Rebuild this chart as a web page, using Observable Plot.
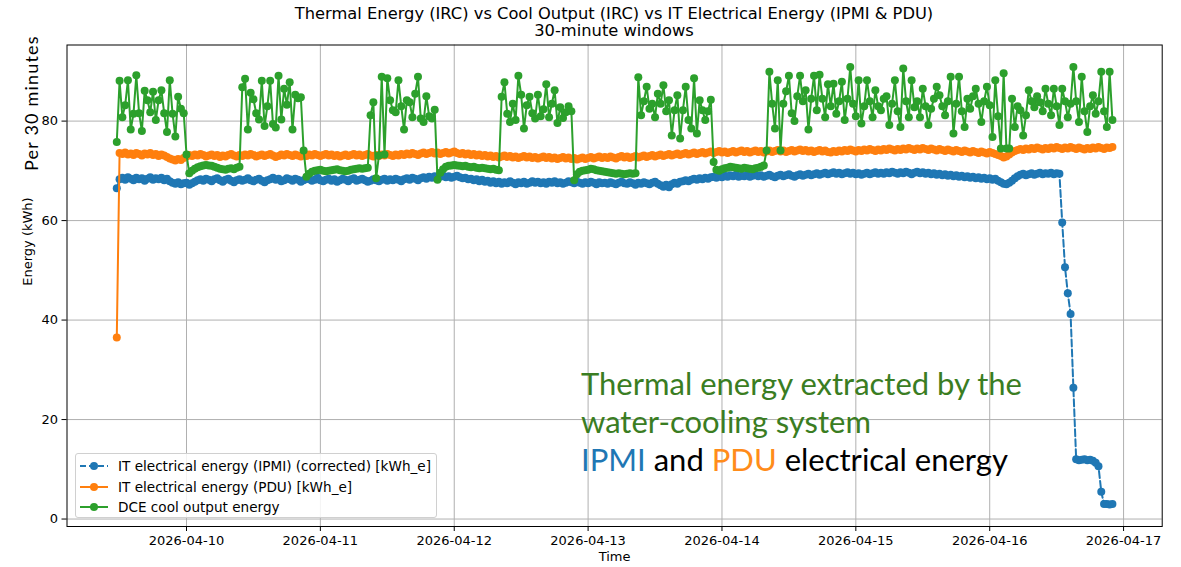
<!DOCTYPE html>
<html><head><meta charset="utf-8">
<script src="https://cdn.jsdelivr.net/npm/d3@7"></script>
<script src="https://cdn.jsdelivr.net/npm/@observablehq/plot@0.6"></script>
<style>
body{margin:0;background:#fff;}
#wrap{position:relative;width:1181px;height:567px;overflow:hidden;font-family:"DejaVu Sans",sans-serif;color:#000;}
#wrap > svg{position:absolute;left:0;top:0;}
.title{position:absolute;left:0;width:1228px;text-align:center;font-size:16.3px;white-space:nowrap;transform:scaleY(0.92);}
.legend{position:absolute;left:75px;top:453px;width:362px;height:65px;border:1px solid #d0d0d0;border-radius:3px;background:rgba(255,255,255,0.85);box-sizing:border-box;}
.legend .row{position:absolute;left:4px;height:20px;display:flex;align-items:center;font-size:13.6px;white-space:nowrap;}
.legend .row svg{margin-right:10px;flex:none;}
.note{position:absolute;font-family:Lato,"Open Sans",sans-serif;font-size:31px;white-space:nowrap;line-height:38px;}
.side{position:absolute;font-family:Lato,"Open Sans",sans-serif;font-size:18px;letter-spacing:1.2px;white-space:nowrap;transform-origin:0 0;transform:rotate(-90deg);}
</style></head><body><div id="wrap"></div>
<script>
const titleLines = ["Thermal Energy (IRC) vs Cool Output (IRC) vs IT Electrical Energy (IPMI & PDU)", "30-minute windows"];
const xLabel = "Time";
const yLabel = "Energy (kWh)";
const startTime = "2026-04-09T11:30:00Z";
const stepMinutes = 30;
const xTickLabels = ["2026-04-10","2026-04-11","2026-04-12","2026-04-13","2026-04-14","2026-04-15","2026-04-16","2026-04-17"];
const yTicks = [0, 20, 40, 60, 80];
const seriesNames = ["IT electrical energy (IPMI) (corrected) [kWh_e]", "IT electrical energy (PDU) [kWh_e]", "DCE cool output energy"];
const seriesColors = ["#1f77b4", "#ff7f0e", "#2ca02c"];

const ipmi = [
66.5,68.3,68.6,68.2,68.7,68.4,68.1,68.6,68.3,68.5,68.0,68.4,68.7,68.2,68.5,68.3,68.6,68.1,68.4,67.9,67.6,67.4,67.7,67.3,67.5,
67.6,67.2,67.5,67.8,68.1,68.3,68.0,68.4,68.2,67.9,68.3,68.5,68.1,67.8,68.2,68.4,68.0,67.7,68.1,68.3,68.0,68.2,68.5,68.1,67.9,
68.2,68.4,68.0,67.7,68.1,68.3,68.6,68.2,68.4,67.9,68.1,68.5,68.3,68.0,68.4,68.2,67.8,68.1,68.5,68.3,68.0,68.2,68.6,68.1,67.9,
68.2,68.4,68.0,68.3,67.8,68.1,68.4,68.2,67.9,68.3,68.5,68.0,68.2,68.4,68.1,67.8,68.0,68.3,68.1,67.9,68.2,68.4,68.0,68.3,68.1,
68.4,68.2,67.9,68.3,68.5,68.2,68.6,68.4,68.1,68.5,68.7,68.4,68.8,68.6,68.9,68.5,68.8,69.0,68.7,68.9,68.6,68.8,69.0,68.7,68.5,
68.6,68.3,68.4,68.1,68.3,67.9,68.2,67.8,68.0,67.6,67.9,67.5,67.8,67.4,67.7,67.5,67.9,67.6,67.3,67.7,67.5,67.8,67.4,67.6,67.9,
67.6,67.8,67.5,67.7,67.4,67.8,67.6,67.9,67.5,67.7,67.4,67.6,67.9,67.7,67.5,67.8,67.6,67.4,67.7,67.5,67.8,67.6,67.3,67.7,67.5,
67.6,67.4,67.7,67.5,67.3,67.6,67.8,67.5,67.4,67.7,67.5,67.2,67.6,67.4,67.7,67.5,67.3,67.6,67.8,67.4,67.1,66.8,67.2,66.7,67.3,
67.6,67.4,67.8,67.9,68.1,67.9,68.2,68.4,68.2,68.5,68.3,68.6,68.4,68.7,68.8,68.6,68.9,68.7,69.0,68.8,69.1,68.9,69.2,68.8,69.0,
68.9,69.1,68.8,69.0,69.2,68.9,69.1,68.8,69.0,69.2,68.9,68.7,69.0,69.2,68.9,69.1,69.3,69.0,68.8,69.1,69.3,69.0,69.2,69.4,69.1,
69.3,69.5,69.2,69.4,69.6,69.3,69.5,69.7,69.4,69.6,69.3,69.5,69.7,69.4,69.6,69.3,69.5,69.2,69.4,69.6,69.3,69.5,69.7,69.4,69.6,
69.4,69.7,69.5,69.8,69.6,69.4,69.7,69.5,69.8,69.6,69.3,69.6,69.8,69.5,69.7,69.4,69.6,69.3,69.5,69.2,69.4,69.1,69.3,69.0,69.2,
68.9,69.1,68.8,69.0,68.7,68.9,68.6,68.8,68.5,68.7,68.4,68.6,68.3,68.5,68.2,68.4,68.0,67.7,67.4,67.3,67.6,68.0,68.5,68.9,69.2,
69.4,69.1,69.3,69.5,69.2,69.4,69.6,69.3,69.5,69.4,69.6,69.3,69.5,69.4,
59.6,50.6,45.4,41.2,26.4,
12.0,11.8,11.9,12.0,11.8,11.9,11.7,11.3,10.6,
5.5,
3.0,3.0,2.9,3.0
];

const pdu = [
36.5,73.6,73.4,73.7,73.3,73.5,73.2,73.6,73.4,73.1,73.5,73.3,73.6,73.2,73.4,73.0,73.3,73.1,72.8,72.5,72.3,72.1,72.4,72.2,72.6,
72.9,73.2,73.0,73.3,73.1,73.4,73.2,72.9,73.1,73.3,73.0,73.2,72.8,73.1,72.9,73.2,73.4,73.1,72.9,73.2,73.0,73.3,73.1,73.4,73.2,
72.9,73.1,73.3,73.0,73.2,73.4,73.1,72.8,73.0,73.3,73.1,73.4,73.2,73.0,73.3,73.1,72.9,73.2,73.0,73.3,73.1,73.4,73.2,73.0,73.2,
73.4,73.1,73.3,73.0,73.2,72.9,73.1,73.3,73.0,73.2,73.4,73.1,73.3,73.0,73.2,73.4,73.1,72.9,73.2,73.0,73.3,73.1,73.4,73.2,73.0,
73.3,73.1,73.4,73.2,73.5,73.3,73.6,73.4,73.2,73.5,73.7,73.4,73.6,73.8,73.5,73.7,73.4,73.6,73.8,73.5,73.7,73.9,73.6,73.4,73.6,
73.3,73.5,73.2,73.4,73.1,73.3,73.0,73.2,72.9,73.1,72.8,73.0,72.7,72.9,73.1,72.8,73.0,72.7,72.9,72.6,72.8,73.0,72.7,72.9,72.6,
72.8,72.5,72.7,72.9,72.6,72.8,72.5,72.7,72.4,72.6,72.8,72.5,72.7,72.4,72.6,72.3,72.5,72.7,72.4,72.6,72.8,72.5,72.7,72.9,72.6,
72.8,72.6,72.9,72.7,72.5,72.8,73.0,72.7,72.9,72.6,72.8,73.0,72.7,72.9,73.1,72.8,73.0,73.2,72.9,73.1,73.3,73.0,73.2,73.4,73.1,
73.3,73.5,73.2,73.4,73.6,73.3,73.5,73.7,73.4,73.6,73.8,73.5,73.7,73.9,73.6,73.8,74.0,73.7,73.9,73.6,73.8,74.0,73.7,73.9,74.1,
73.8,74.0,73.7,73.9,74.1,73.8,74.0,73.7,73.9,74.1,73.8,74.0,74.2,73.9,74.1,73.8,74.0,74.2,73.9,74.1,74.3,74.0,74.2,73.9,74.1,
73.8,74.0,74.2,73.9,74.1,73.8,73.7,74.0,73.8,74.1,73.9,74.2,74.0,74.3,74.1,73.9,74.2,74.0,74.3,74.1,74.4,74.2,74.0,74.3,74.1,
74.4,74.2,74.5,74.3,74.1,74.4,74.2,74.5,74.3,74.6,74.4,74.2,74.5,74.3,74.6,74.4,74.2,74.5,74.3,74.1,74.4,74.2,74.0,74.3,74.1,
73.9,74.2,74.0,73.8,74.1,73.9,73.7,74.0,73.8,73.6,73.9,73.7,73.5,73.8,73.6,73.4,73.2,73.0,72.7,72.9,73.3,73.7,74.0,74.2,74.4,
74.2,74.5,74.3,74.6,74.4,74.7,74.5,74.3,74.6,74.4,74.7,74.5,74.8,74.6,74.4,74.7,74.5,74.8,74.6,74.4,74.7,74.5,74.3,74.6,74.4,
74.7,74.5,74.8,74.6,74.4,74.7,74.6,74.8
];

const dce = [
75.8,88.1,80.8,83.2,88.2,78.3,81.5,89.2,81.6,78.0,86.1,84.2,81.8,85.9,80.2,84.2,86.2,81.6,77.8,88.2,81.5,76.9,84.9,82.5,81.6,
73.3,
69.5,70.0,70.4,70.7,70.9,71.1,71.2,71.1,71.0,70.8,70.6,70.4,70.3,70.2,70.4,70.5,70.3,70.6,70.8,
86.8,88.5,78.3,85.7,84.4,81.6,80.3,88.1,79.0,83.0,88.1,79.4,78.7,89.1,80.3,86.5,83.3,87.8,78.3,85.3,84.6,84.8,
74.1,
68.8,69.4,69.8,70.0,70.1,70.2,70.0,69.9,70.0,70.1,70.2,70.3,70.1,70.0,69.9,70.0,70.2,70.3,70.4,70.5,70.4,70.5,70.6,
81.2,83.8,68.5,73.1,88.9,73.3,88.6,84.2,82.2,81.8,88.2,83.0,78.3,84.2,83.8,80.8,85.5,88.9,80.5,79.8,85.0,81.0,80.5,82.3,
68.2,69.6,70.3,70.8,71.0,71.1,71.2,71.1,71.0,70.9,71.0,70.8,70.7,70.8,70.6,70.5,70.6,70.5,70.4,70.3,70.4,70.2,70.1,
84.9,87.8,81.5,79.8,83.5,80.2,89.1,85.3,78.5,83.2,84.9,81.6,80.5,85.3,81.0,82.4,87.4,80.8,83.5,86.2,79.6,82.8,80.6,81.8,83.0,82.0,
68.1,69.3,69.8,70.0,70.1,70.2,70.4,70.3,70.1,70.0,69.9,69.8,69.7,69.6,69.5,69.4,69.5,69.4,69.3,69.4,69.5,69.4,69.5,
88.8,81.2,84.0,86.9,82.5,83.5,80.8,85.5,83.5,87.2,82.0,84.2,77.1,82.2,85.2,76.5,82.2,86.9,80.2,78.5,88.6,77.5,84.2,82.2,80.2,82.0,84.3,
71.8,
70.2,70.0,70.3,70.5,70.6,70.8,70.7,70.6,70.5,70.4,70.6,70.5,70.4,70.3,70.5,70.6,70.8,71.1,
74.1,89.9,83.5,78.5,88.2,74.1,83.5,86.0,89.1,81.6,
80.0,85.0,89.1,84.0,86.2,78.3,84.5,89.1,82.2,89.3,
84.5,80.8,87.4,83.0,87.5,81.5,84.0,87.9,80.2,84.5,
90.9,83.5,81.0,88.2,79.5,83.0,88.2,84.0,80.8,86.2,
83.0,82.2,84.5,85.0,79.2,83.5,88.2,82.0,78.8,90.6,
84.0,80.8,88.2,82.8,84.0,80.8,86.5,83.0,79.2,82.5,
84.5,86.9,85.2,83.0,81.2,84.0,88.9,77.5,83.5,88.9,
82.0,78.8,84.5,82.5,85.0,86.5,83.5,79.8,84.0,86.9,
83.2,76.8,88.2,81.0,74.5,89.6,74.5,74.5,84.5,78.8,
83.0,82.2,77.1,81.2,86.2,84.0,82.8,85.0,83.8,82.0,
86.5,83.5,81.2,86.5,83.0,79.2,86.5,84.0,80.8,83.5,
90.9,84.0,79.8,88.9,82.0,77.8,83.0,85.2,81.5,84.0,
89.9,82.0,78.8,89.9,80.2
];

const t0 = Date.parse(startTime);
const toRows = arr => arr.map((v, i) => ({t: new Date(t0 + i * stepMinutes * 60000), v}));
const series = [ipmi, pdu, dce].map(toRows);

// matplotlib-like 5% autoscale margins
const allT = series.flat().map(d => +d.t), allV = series.flat().map(d => d.v);
const tMin = d3.min(allT), tMax = d3.max(allT), vMin = d3.min(allV), vMax = d3.max(allV);
const xDomain = [new Date(tMin - 0.05 * (tMax - tMin)), new Date(tMax + 0.05 * (tMax - tMin))];
const yDomain = [vMin - 0.05 * (vMax - vMin), vMax + 0.05 * (vMax - vMin)];
const xTicks = xTickLabels.map(s => new Date(s + "T00:00:00Z"));
const fmt = d3.utcFormat("%Y-%m-%d");

const gridStyle = {stroke: "#b0b0b0", strokeOpacity: 1, strokeWidth: 1};
const chart = Plot.plot({
  width: 1181, height: 567,
  marginTop: 44.5, marginBottom: 41, marginLeft: 66.5, marginRight: 19.3,
  style: {fontFamily: "DejaVu Sans, sans-serif", fontSize: "13px", color: "black", background: "transparent", overflow: "visible"},
  x: {type: "utc", domain: xDomain, label: null},
  y: {domain: yDomain, label: null},
  marks: [
    Plot.gridX(xTicks, gridStyle),
    Plot.gridY(yTicks, gridStyle),
    Plot.line(series[0], {x: "t", y: "v", stroke: seriesColors[0], strokeWidth: 2, strokeDasharray: "7,3"}),
    Plot.dot(series[0], {x: "t", y: "v", fill: seriesColors[0], r: 4}),
    Plot.line(series[1], {x: "t", y: "v", stroke: seriesColors[1], strokeWidth: 2}),
    Plot.dot(series[1], {x: "t", y: "v", fill: seriesColors[1], r: 4}),
    Plot.line(series[2], {x: "t", y: "v", stroke: seriesColors[2], strokeWidth: 2}),
    Plot.dot(series[2], {x: "t", y: "v", fill: seriesColors[2], r: 4}),
    Plot.frame({stroke: "black", strokeWidth: 1}),
    Plot.axisX(xTicks, {tickFormat: fmt, tickSize: 5, tickPadding: 4, label: null, fontSize: 13}),
    Plot.axisY(yTicks, {tickSize: 5, tickPadding: 4, label: null, fontSize: 13}),
    Plot.text([xLabel], {frameAnchor: "bottom", dy: 34, text: d => d, fontSize: 13}),
    Plot.text([yLabel], {frameAnchor: "left", dx: -39, rotate: -90, text: d => d, fontSize: 13})
  ]
});

const wrap = document.getElementById("wrap");
wrap.appendChild(chart);

titleLines.forEach((s, i) => {
  const d = document.createElement("div");
  d.className = "title";
  d.style.top = (i === 0 ? 4 : 21) + "px";
  d.textContent = s;
  wrap.appendChild(d);
});

// legend
const lg = document.createElement("div");
lg.className = "legend";
seriesNames.forEach((name, i) => {
  const row = document.createElement("div");
  row.className = "row";
  row.style.top = (2 + i * 20.5) + "px";
  const dash = i === 0 ? 'stroke-dasharray="6,3"' : "";
  row.innerHTML = `<svg width="28" height="12"><line x1="0" y1="6" x2="28" y2="6" stroke="${seriesColors[i]}" stroke-width="2" ${dash}/><circle cx="14" cy="6" r="4" fill="${seriesColors[i]}"/></svg><span>${name}</span>`;
  lg.appendChild(row);
});
wrap.appendChild(lg);

// overlaid annotations
const note = document.createElement("div");
note.className = "note";
note.style.left = "581px";
note.style.top = "364px";
note.innerHTML = '<div style="color:#3a7d22">Thermal energy extracted by the</div><div style="color:#3a7d22">water-cooling system</div><div><span style="color:#1f77b4">IPMI</span> and <span style="color:#ff8c1a">PDU</span> electrical energy</div>';
wrap.appendChild(note);

const side = document.createElement("div");
side.className = "side";
side.style.left = "20px";
side.style.top = "171px";
side.textContent = "Per 30 minutes";
wrap.appendChild(side);
</script></body></html>
